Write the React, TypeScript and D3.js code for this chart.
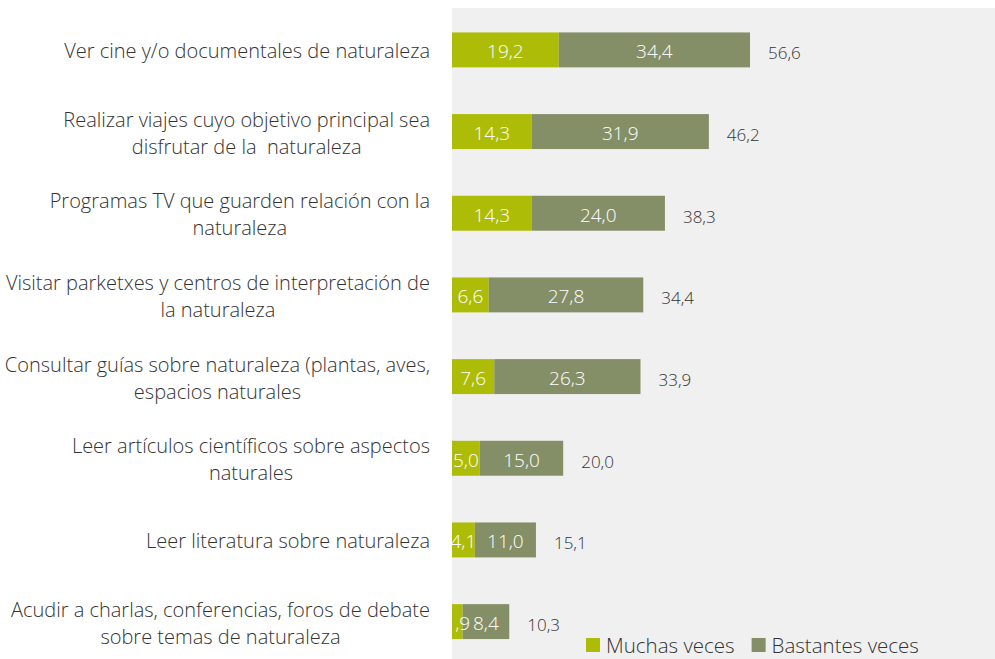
import React, { useEffect, useRef } from "react";
import * as d3 from "d3";

const categories = [
  "Ver cine y/o documentales de naturaleza",
  "Realizar viajes cuyo objetivo principal sea\ndisfrutar de la  naturaleza",
  "Programas TV que guarden relación con la\nnaturaleza",
  "Visitar parketxes y centros de interpretación de\nla naturaleza",
  "Consultar guías sobre naturaleza (plantas, aves,\nespacios naturales",
  "Leer artículos científicos sobre aspectos\nnaturales",
  "Leer literatura sobre naturaleza",
  "Acudir a charlas, conferencias, foros de debate\nsobre temas de naturaleza",
];
const muchasVeces = [19.2, 14.3, 14.3, 6.6, 7.6, 5.0, 4.1, 1.9];
const bastantesVeces = [34.4, 31.9, 24.0, 27.8, 26.3, 15.0, 11.0, 8.4];
const totals = [56.6, 46.2, 38.3, 34.4, 33.9, 20.0, 15.1, 10.3];
const seriesNames = ["Muchas veces", "Bastantes veces"];
const seriesColors = ["#adbc07", "#858f67"];

const W = 995;
const H = 659;
const FONT = "'Open Sans', sans-serif";

const fmt = (v: number) => d3.format(".1f")(v).replace(".", ",");

function App() {
  const ref = useRef<SVGSVGElement>(null);

  useEffect(() => {
    const svg = d3.select(ref.current);
    svg.selectAll("*").remove();

    const plotLeft = 452;
    const plotTop = 8;

    svg
      .append("rect")
      .attr("x", plotLeft)
      .attr("y", plotTop)
      .attr("width", W - plotLeft)
      .attr("height", H - plotTop)
      .attr("fill", "#f0f0f0");

    const x = d3.scaleLinear().domain([0, 100]).range([plotLeft, plotLeft + 556]);
    const y = d3
      .scaleBand<number>()
      .domain(d3.range(categories.length))
      .range([12, 659.5])
      .paddingInner(0.572)
      .paddingOuter(0.25);

    const rows = categories.map((c, i) => ({
      i,
      name: c,
      values: [muchasVeces[i], bastantesVeces[i]],
      total: totals[i],
    }));

    const stack = d3
      .stack<any>()
      .keys(["0", "1"])
      .value((d, k) => d.values[+k]);
    const stacked = stack(rows);

    const g = svg.append("g");
    stacked.forEach((layer, li) => {
      g.append("g")
        .selectAll("rect")
        .data(layer)
        .join("rect")
        .attr("x", (d) => x(d[0]))
        .attr("y", (d) => y(d.data.i)!)
        .attr("width", (d) => x(d[1]) - x(d[0]))
        .attr("height", y.bandwidth())
        .attr("fill", seriesColors[li]);
    });

    stacked.forEach((layer) => {
      g.append("g")
        .selectAll("text")
        .data(layer)
        .join("text")
        .attr("x", (d) => (x(d[0]) + x(d[1])) / 2)
        .attr("y", (d) => y(d.data.i)! + y.bandwidth() / 2 + 1.5)
        .attr("text-anchor", "middle")
        .attr("dominant-baseline", "central")
        .attr("fill", "#ffffff")
        .style("font-family", FONT)
        .style("font-weight", 300)
        .style("font-size", "19px")
        .text((d) => fmt(d[1] - d[0]));
    });

    g.append("g")
      .selectAll("text")
      .data(rows)
      .join("text")
      .attr("x", (d) => x(d.values[0] + d.values[1]) + 18)
      .attr("y", (d) => y(d.i)! + y.bandwidth() / 2 + 3)
      .attr("dominant-baseline", "central")
      .attr("fill", "#333333")
      .style("font-family", FONT)
      .style("font-weight", 300)
      .style("font-size", "17px")
      .text((d) => fmt(d.total));

    // category labels: block right-aligned, lines centred within block
    const labelRight = 430;
    const lineH = 27;
    rows.forEach((r) => {
      const lines = r.name.split("\n");
      const t = svg
        .append("text")
        .attr("fill", "#333333")
        .attr("text-anchor", "middle")
        .style("font-family", FONT)
        .style("font-weight", 300)
        .style("font-size", "20px")
        .style("white-space", "pre");
      const cy = y(r.i)! + y.bandwidth() / 2 + 1;
      const spans = lines.map((ln, k) =>
        t
          .append("tspan")
          .attr("y", cy + (k - (lines.length - 1) / 2) * lineH)
          .attr("dominant-baseline", "central")
          .text(ln)
      );
      const maxW = d3.max(spans, (s) => (s.node() as SVGTSpanElement).getComputedTextLength())!;
      spans.forEach((s) => s.attr("x", labelRight - maxW / 2));
    });

    // legend
    const legend = svg.append("g").attr("transform", "translate(586, 644)");
    let lx = 0;
    seriesNames.forEach((n, i) => {
      legend
        .append("rect")
        .attr("x", lx)
        .attr("y", -6)
        .attr("width", 14)
        .attr("height", 14)
        .attr("fill", seriesColors[i]);
      const t = legend
        .append("text")
        .attr("x", lx + 20)
        .attr("y", 1)
        .attr("dominant-baseline", "central")
        .attr("fill", "#333333")
        .style("font-family", FONT)
        .style("font-weight", 300)
        .style("font-size", "20.5px")
        .text(n);
      lx += 20 + (t.node() as SVGTextElement).getComputedTextLength() + 17;
    });
  }, []);

  return (
    <div style={{ position: "fixed", left: 0, top: 0, width: W, height: H, background: "#fff" }}>
      <svg ref={ref} width={W} height={H} style={{ display: "block" }} />
    </div>
  );
}

export default App;
